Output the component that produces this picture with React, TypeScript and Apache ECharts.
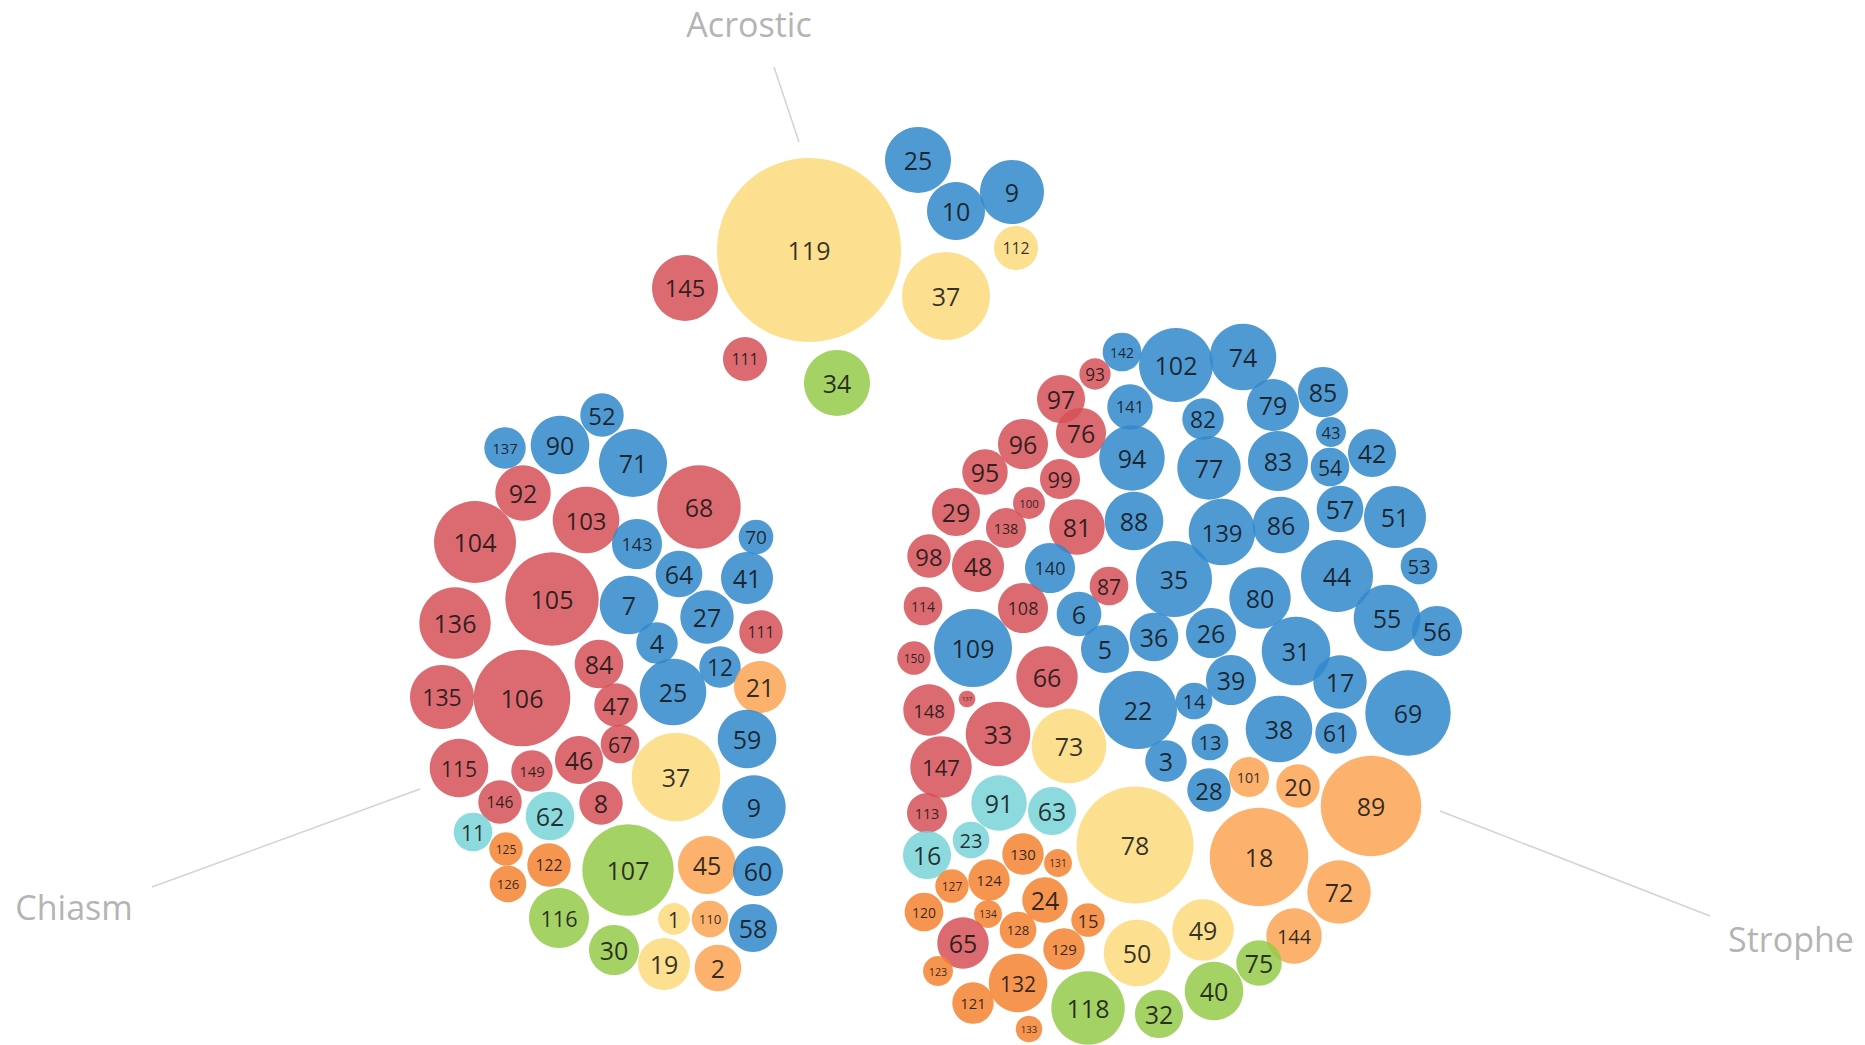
import React, { useEffect, useRef } from "react";
import * as echarts from "echarts";

// colour classes: 0 red, 1 orange, 2 light orange, 3 yellow, 4 green, 5 teal, 6 blue
const GROUP_COLORS = ["#d55157", "#f58331", "#fba454", "#fcda7b", "#95ca49", "#78d3d8", "#3088cb"];

type Bubble = [string, number, number, number, number]; // label, x, y, radius, class

const acrostic: Bubble[] = [
  ["119", 809, 250, 92, 3], ["25", 918, 160, 33, 6], ["10", 956, 211, 29, 6],
  ["9", 1012, 192, 32, 6], ["112", 1016, 248, 22, 3], ["37", 946, 296, 44, 3],
  ["145", 685, 288, 33, 0], ["111", 745, 359, 22, 0], ["34", 837, 383, 33, 4],
];

const chiasm: Bubble[] = [
  ["52", 602, 415, 21.7, 6], ["137", 505, 448, 20.7, 6], ["90", 560, 445, 29.3, 6],
  ["71", 633, 463, 34, 6], ["92", 523, 493, 27.7, 0], ["103", 586, 520, 33.3, 0],
  ["68", 699, 507, 41.7, 0], ["104", 475, 542, 41, 0], ["143", 637, 544, 25, 6],
  ["70", 756, 537, 17.3, 6], ["64", 679, 574, 23.3, 6], ["41", 747, 578, 26, 6],
  ["105", 552, 599, 46.7, 0], ["7", 629, 605, 29.3, 6], ["27", 707, 617, 26.7, 6],
  ["136", 455, 623, 35.7, 0], ["111", 761, 632, 21.7, 0], ["4", 657, 643, 20.7, 6],
  ["84", 599, 664, 24.3, 0], ["12", 720, 667, 20.7, 6], ["21", 760, 687, 26, 2],
  ["135", 442, 697, 32, 0], ["106", 522, 698, 48.3, 0], ["25", 673, 692, 33.3, 6],
  ["47", 616, 705, 21.7, 0], ["59", 747, 739, 29.3, 6], ["67", 620, 744, 19.3, 0],
  ["46", 579, 760, 24, 0], ["115", 459, 768, 29.3, 0], ["149", 532, 771, 20.7, 0],
  ["37", 676, 777, 44.3, 3], ["146", 500, 802, 21.7, 0], ["8", 601, 803, 21.7, 0],
  ["9", 754, 807, 31.7, 6], ["62", 550, 816, 24.3, 5], ["11", 473, 832, 19.3, 5],
  ["125", 506, 849, 16.7, 1], ["122", 549, 865, 21.7, 1], ["107", 628, 870, 45.7, 4],
  ["45", 707, 865, 29, 2], ["60", 758, 871, 25, 6], ["126", 508, 884, 18.3, 1],
  ["116", 559, 918, 30, 4], ["1", 674, 919, 16, 3], ["110", 710, 919, 18.3, 2],
  ["58", 753, 928, 24, 6], ["30", 614, 950, 25, 4], ["19", 664, 964, 26, 3],
  ["2", 718, 968, 23.3, 2],
];

const strophe: Bubble[] = [
  ["142", 1122, 352, 19.3, 6], ["102", 1176, 365, 37, 6], ["74", 1243, 357, 33.3, 6],
  ["93", 1095, 374, 15.7, 0], ["97", 1061, 399, 24, 0], ["141", 1130, 407, 22.7, 6],
  ["82", 1203, 419, 20.7, 6], ["79", 1273, 405, 26, 6], ["85", 1323, 392, 25, 6],
  ["76", 1081, 433, 25, 0], ["96", 1023, 444, 25, 0], ["94", 1132, 458, 32.7, 6],
  ["77", 1209, 468, 31.7, 6], ["83", 1278, 461, 30, 6], ["43", 1331, 432, 15, 6],
  ["42", 1372, 453, 24, 6], ["54", 1330, 467, 19.3, 6], ["95", 985, 472, 22.7, 0],
  ["99", 1060, 479, 20, 0], ["100", 1029, 503, 16, 0], ["29", 956, 512, 24, 0],
  ["138", 1006, 528, 20, 0], ["81", 1077, 527, 27.7, 0], ["88", 1134, 521, 29.3, 6],
  ["139", 1222, 532, 33.3, 6], ["86", 1281, 525, 28.3, 6], ["57", 1340, 509, 23.3, 6],
  ["51", 1395, 517, 31, 6], ["98", 929, 556, 21.7, 0], ["48", 978, 566, 26, 0],
  ["140", 1050, 568, 25, 6], ["87", 1109, 586, 19.3, 0], ["35", 1174, 579, 38, 6],
  ["80", 1260, 598, 30.7, 6], ["44", 1337, 576, 36, 6], ["53", 1419, 566, 18.3, 6],
  ["114", 923, 606, 19.3, 0], ["108", 1023, 608, 25, 0], ["6", 1079, 614, 22.3, 6],
  ["36", 1154, 637, 24.3, 6], ["26", 1211, 633, 25, 6], ["31", 1296, 651, 34.3, 6],
  ["55", 1387, 618, 33.3, 6], ["56", 1437, 631, 25, 6], ["150", 914, 658, 16.7, 0],
  ["109", 973, 648, 39, 6], ["5", 1105, 649, 24, 6], ["66", 1047, 677, 30.7, 0],
  ["39", 1231, 680, 25, 6], ["17", 1340, 682, 26.7, 6], ["148", 929, 710, 25.7, 0],
  ["137", 967, 699, 8.3, 0], ["22", 1138, 710, 39, 6], ["14", 1194, 701, 18.3, 6],
  ["69", 1408, 713, 42.7, 6], ["33", 998, 734, 32.3, 0], ["73", 1069, 746, 37.3, 3],
  ["3", 1166, 761, 20.7, 6], ["13", 1210, 742, 18.3, 6], ["38", 1279, 729, 33.3, 6],
  ["61", 1336, 733, 20.7, 6], ["147", 941, 767, 30.7, 0], ["28", 1209, 790, 21.7, 6],
  ["101", 1249, 777, 20, 2], ["20", 1298, 786, 21.7, 2], ["89", 1371, 806, 50.3, 2],
  ["113", 927, 813, 20, 0], ["91", 999, 803, 27.7, 5], ["63", 1052, 811, 24, 5],
  ["78", 1135, 845, 58.5, 3], ["18", 1259, 857, 49.3, 2], ["16", 927, 855, 24, 5],
  ["23", 971, 840, 18.3, 5], ["130", 1023, 854, 20.7, 1], ["131", 1058, 863, 14, 1],
  ["127", 952, 886, 16.7, 1], ["124", 989, 880, 20.7, 1], ["24", 1045, 900, 22.7, 1],
  ["72", 1339, 892, 31.7, 2], ["120", 924, 912, 19.3, 1], ["134", 988, 914, 14, 1],
  ["15", 1088, 920, 16.7, 1], ["49", 1203, 930, 30.7, 3], ["128", 1018, 930, 18.3, 1],
  ["65", 963, 943, 25.7, 0], ["129", 1064, 949, 20.7, 1], ["50", 1137, 953, 33.3, 3],
  ["144", 1294, 936, 27.7, 2], ["123", 938, 971, 15, 1], ["75", 1259, 963, 22.7, 4],
  ["132", 1018, 983, 29.3, 1], ["121", 973, 1003, 20.7, 1], ["118", 1088, 1008, 36.7, 4],
  ["32", 1159, 1014, 24, 4], ["40", 1214, 991, 29.3, 4], ["133", 1029, 1029, 13.3, 1],
];

const sectionNames = ["Acrostic", "Chiasm", "Strophe"];
const sectionLabelPos: [number, number][] = [[749, 24], [74, 907], [1791, 939]];
const leaderLines: [number, number][][] = [
  [[774, 67], [799, 142]],
  [[152, 887], [420, 789]],
  [[1440, 811], [1710, 916]],
];

const W = 1865;
const H = 1045;
const FONT = "'Open Sans', 'Noto Sans', sans-serif";

function labelSize(label: string, r: number) {
  const n = label.length;
  const byRadius = n === 1 ? 1.35 * r : n === 2 ? 1.1 * r : (2.16 * r) / n;
  return Math.max(5, Math.min(25, byRadius));
}

function bubbleSeries(name: string, list: Bubble[]) {
  return {
    type: "scatter",
    name,
    symbol: "circle",
    symbolSize: (v: number[]) => v[2] * 2,
    data: list.map(([label, x, y, r, g]) => ({
      name: label,
      value: [x, y, r],
      itemStyle: { color: GROUP_COLORS[g], opacity: 0.85 },
      label: { fontSize: labelSize(label, r) },
    })),
    label: {
      show: true,
      position: "inside",
      formatter: "{b}",
      color: "#111111",
      fontFamily: FONT,
    },
    silent: true,
    z: 3,
  };
}

export default function App() {
  const ref = useRef<HTMLDivElement>(null);
  useEffect(() => {
    if (!ref.current) return;
    const chart = echarts.init(ref.current, undefined, { renderer: "svg" });
    const series: any[] = [];
    leaderLines.forEach((pts, i) => {
      series.push({
        type: "line",
        name: sectionNames[i] + "-line",
        data: pts,
        symbol: "none",
        lineStyle: { color: "#d3d3d3", width: 1.5 },
        silent: true,
        z: 1,
      });
    });
    series.push(bubbleSeries("Acrostic", acrostic));
    series.push(bubbleSeries("Chiasm", chiasm));
    series.push(bubbleSeries("Strophe", strophe));
    series.push({
      type: "scatter",
      name: "sections",
      symbolSize: 1,
      itemStyle: { color: "rgba(0,0,0,0)" },
      data: sectionNames.map((n, i) => ({ name: n, value: sectionLabelPos[i] })),
      label: {
        show: true,
        position: "inside",
        formatter: "{b}",
        color: "#a0a0a0",
        fontSize: 34,
        fontFamily: FONT,
      },
      silent: true,
      z: 4,
    });
    chart.setOption({
      animation: false,
      backgroundColor: "#ffffff",
      grid: { left: 0, right: 0, top: 0, bottom: 0 },
      xAxis: { type: "value", min: 0, max: W, show: false },
      yAxis: { type: "value", min: 0, max: H, inverse: true, show: false },
      series,
    });
    return () => chart.dispose();
  }, []);
  return (
    <div
      ref={ref}
      style={{ position: "fixed", left: 0, top: 0, width: W, height: H, background: "#fff" }}
    />
  );
}
